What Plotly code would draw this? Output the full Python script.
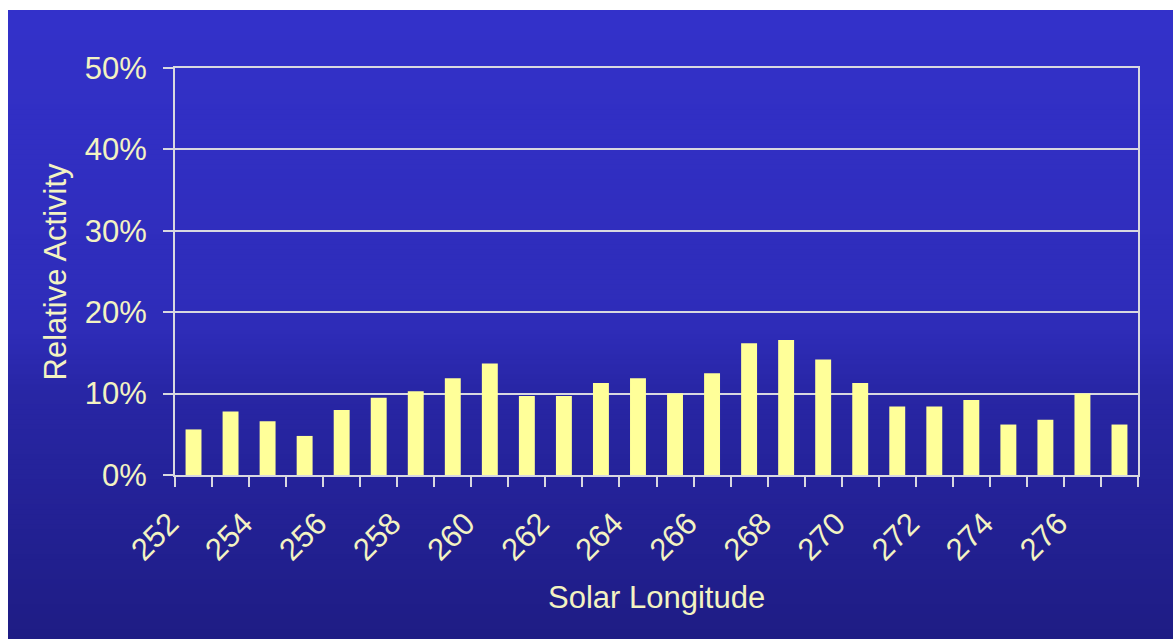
import plotly.graph_objects as go

# ---- data ----
longitudes = [252, 253, 254, 255, 256, 257, 258, 259, 260, 261, 262, 263, 264,
              265, 266, 267, 268, 269, 270, 271, 272, 273, 274, 275, 276, 277]
activity = [0.056, 0.078, 0.066, 0.048, 0.080, 0.095, 0.103, 0.119, 0.137, 0.097,
            0.097, 0.113, 0.119, 0.100, 0.125, 0.162, 0.166, 0.142, 0.113, 0.084,
            0.084, 0.092, 0.062, 0.068, 0.100, 0.062]
x_tick_vals = [252, 254, 256, 258, 260, 262, 264, 266, 268, 270, 272, 274, 276]
x_tick_text = [str(v) for v in x_tick_vals]
y_tick_vals = [0, 0.1, 0.2, 0.3, 0.4, 0.5]
y_tick_text = ["0%", "10%", "20%", "30%", "40%", "50%"]

# ---- layout constants ----
W, H = 1173, 639
ML, MR, MT, MB = 175, 35, 68, 164
PW, PH = W - ML - MR, H - MT - MB
FONT = "Liberation Sans, Arial, sans-serif"
FS = 31
TXT = "#F3F3C2"
LINE = "#D8D8E0"
BAR = "#FFFF99"

def px_to_paper_x(px):
    return (px - ML) / PW

def px_to_paper_y(py):
    return (H - MB - py) / PH

# gradient background (blue), white strip on top/left
stops = [(10, (51, 49, 202)), (330, (46, 44, 184)), (390, (40, 38, 165)), (639, (30, 28, 132))]

def color_at(py):
    for (y0, c0), (y1, c1) in zip(stops[:-1], stops[1:]):
        if y0 <= py <= y1:
            t = (py - y0) / (y1 - y0)
            return tuple(round(a + (b - a) * t) for a, b in zip(c0, c1))
    return stops[-1][1]

shapes = []
n = 126
top, bot = 10, H
step = (bot - top) / n
for i in range(n):
    y0 = top + i * step
    y1 = min(bot, y0 + step + 1)
    c = color_at(y0 + step / 2)
    shapes.append(dict(type="rect", xref="paper", yref="paper",
                       x0=px_to_paper_x(8), x1=px_to_paper_x(W),
                       y0=px_to_paper_y(y1), y1=px_to_paper_y(y0),
                       fillcolor="rgb(%d,%d,%d)" % c, line=dict(width=0),
                       layer="below"))

fig = go.Figure(go.Bar(x=longitudes, y=activity, marker=dict(color=BAR, line=dict(width=0))))

fig.update_layout(
    width=W, height=H,
    margin=dict(l=ML, r=MR, t=MT, b=MB),
    paper_bgcolor="white",
    plot_bgcolor="rgba(0,0,0,0)",
    bargap=0.57,
    showlegend=False,
    shapes=shapes,
    font=dict(family=FONT, color=TXT, size=FS),
)

fig.update_xaxes(
    range=[longitudes[0] - 0.5, longitudes[-1] + 0.5],
    tickmode="array", tickvals=x_tick_vals, ticktext=x_tick_text,
    tickangle=-45, ticks="",
    ticklabelstandoff=16, ticklabelshift=-24,
    tickfont=dict(family=FONT, color=TXT, size=FS),
    showgrid=False, zeroline=False,
    showline=True, linecolor=LINE, linewidth=2, mirror=True,
    minor=dict(ticks="outside", ticklen=10, tickwidth=2, tickcolor=LINE,
               tickmode="linear", tick0=longitudes[0] - 0.5, dtick=1, showgrid=False),
)

fig.update_yaxes(
    range=[0, 0.5],
    tickmode="array", tickvals=y_tick_vals, ticktext=y_tick_text,
    ticks="outside", ticklen=10, tickwidth=2, tickcolor=LINE,
    ticklabelstandoff=10,
    tickfont=dict(family=FONT, color=TXT, size=FS),
    showgrid=True, gridcolor=LINE, gridwidth=2,
    zeroline=False,
    showline=True, linecolor=LINE, linewidth=2, mirror=True,
)

fig.add_annotation(text="Solar Longitude", xref="paper", yref="paper",
                   x=0.5, y=px_to_paper_y(597), xanchor="center", yanchor="middle",
                   showarrow=False, font=dict(family=FONT, color=TXT, size=FS))
fig.add_annotation(text="Relative Activity", xref="paper", yref="paper",
                   x=px_to_paper_x(55), y=0.5, xanchor="center", yanchor="middle",
                   textangle=-90, showarrow=False,
                   font=dict(family=FONT, color=TXT, size=FS))

fig.write_html("out.html")
